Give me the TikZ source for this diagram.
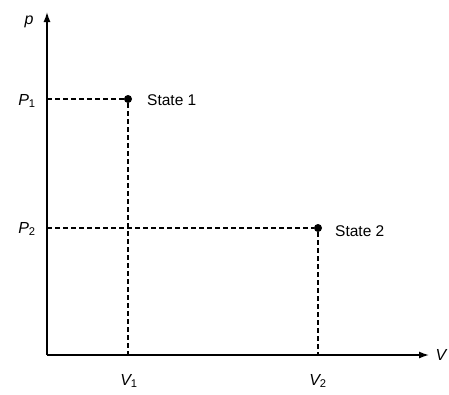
\documentclass[tikz,border=0pt]{standalone}
\usepackage{fontspec}
\setmainfont{Liberation Sans}
\usetikzlibrary{arrows.meta}
\newcommand{\mysub}[1]{\textsubscript{\upshape #1}}
\tikzset{
  axis/.style={line width=1.4pt,-{Latex[length=10pt,width=7pt]}},
  guide/.style={line width=1.1pt,dash pattern=on 5pt off 3pt},
  statept/.style={circle,fill=black,inner sep=0pt,minimum size=8pt},
  lbl/.style={font=\fontsize{16}{19}\selectfont\itshape,inner sep=1pt},
  slbl/.style={font=\fontsize{15.5}{18}\selectfont,inner sep=1pt,anchor=west}
}
\begin{document}
\begin{tikzpicture}[x=1pt,y=-1pt]
\useasboundingbox (0,0) rectangle (449,394);
\coordinate (O) at (47,355);
\coordinate (ytop) at (47,12);
\coordinate (xend) at (429,355);
\coordinate (yp1) at (47,99);
\coordinate (yp2) at (47,228);
\coordinate (xv1) at (128,355);
\coordinate (xv2) at (318,355);
\node[statept] (s1) at (128,99) {};
\node[statept] (s2) at (318,228) {};
\draw[guide] (yp1) -- (s1);
\draw[guide] (s1) -- (xv1);
\draw[guide] (yp2) -- (s2);
\draw[guide] (s2) -- (xv2);
\draw[axis] (O) -- (ytop);
\draw[axis] (O) -- (xend);
\node[lbl] (lp) at (29,22) {p};
\node[lbl] (lv) at (441,355) {V};
\node[lbl] (lp1) at (27,101) {P\mysub{1}};
\node[lbl] (lp2) at (27,229) {P\mysub{2}};
\node[lbl] (lv1) at (129,381) {V\mysub{1}};
\node[lbl] (lv2) at (318,381) {V\mysub{2}};
\node[slbl] (t1) at (146,100) {State 1};
\node[slbl] (t2) at (334,231) {State 2};
\end{tikzpicture}
\end{document}
